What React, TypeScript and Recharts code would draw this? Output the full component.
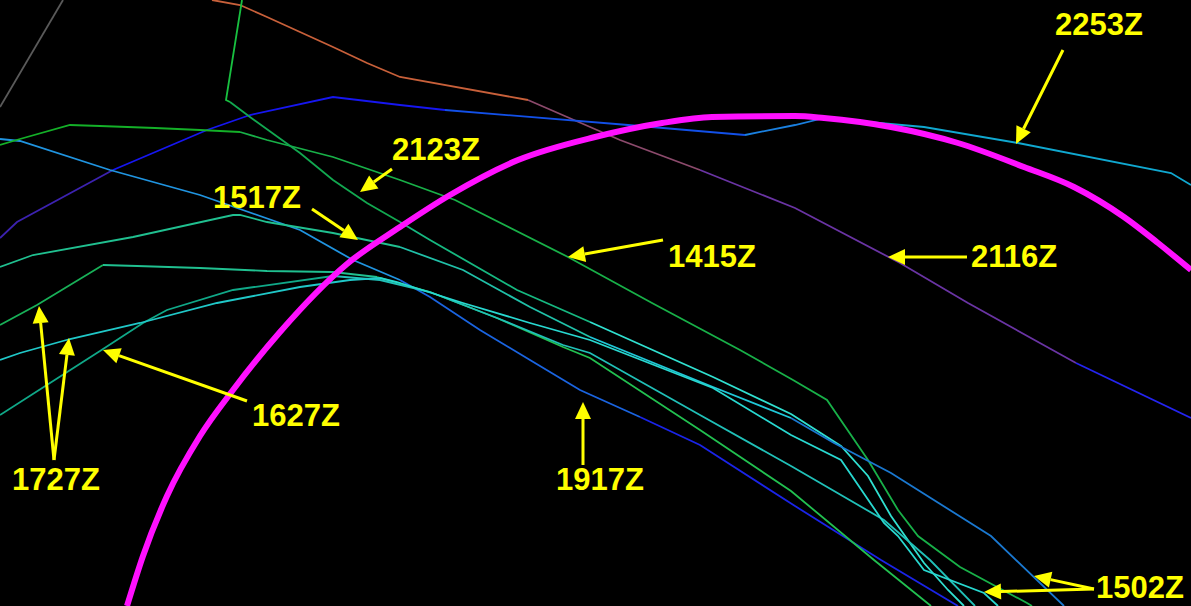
import React from 'react';
import { ComposedChart, Line, XAxis, YAxis, ReferenceLine, ReferenceDot } from 'recharts';

const W = 1191;
const H = 606;

// track points (x right, y down)
const grayTrack = [[0, 107], [63, 0]];
const track2116 = [[212, 0], [240, 5], [267, 17], [300, 32], [333, 47], [367, 63], [400, 77], [528, 100], [620, 140], [700, 170], [795, 208], [900, 263], [968, 303], [1076, 363], [1191, 418]];
const track2253 = [[0, 238], [17, 222], [113, 170], [207, 130], [250, 115], [333, 97], [400, 105], [445, 110], [628, 125], [745, 135], [795, 125], [824, 118], [924, 127], [1018, 143], [1171, 173], [1191, 185]];
const track1415 = [[0, 145], [20, 139], [70, 125], [100, 126], [155, 128], [200, 130], [240, 132], [267, 140], [333, 157], [400, 180], [455, 200], [568, 257], [652, 303], [740, 350], [793, 380], [827, 400], [868, 460], [898, 510], [918, 536], [960, 567], [1027, 603], [1032, 606]];
const track2123 = [[242, 0], [226, 100], [230, 102], [250, 117], [300, 153], [333, 180], [367, 203], [400, 222], [430, 240], [517, 290], [590, 322], [713, 377], [791, 414], [841, 446], [868, 476], [891, 516], [924, 563], [948, 590], [964, 606]];
const track1517 = [[0, 267], [33, 255], [133, 237], [233, 215], [240, 215], [267, 222], [333, 233], [400, 247], [463, 270], [530, 307], [590, 337], [713, 387], [791, 418], [834, 443], [891, 473], [991, 536], [1064, 606]];
const track1727a = [[0, 325], [37, 305], [103, 265], [137, 266], [200, 268], [267, 271], [333, 272], [377, 277], [430, 292], [497, 318], [563, 347], [590, 358], [700, 430], [791, 491], [874, 560], [931, 606]];
const track1727b = [[0, 360], [20, 353], [70, 339], [140, 323], [217, 303], [300, 287], [350, 280], [380, 278], [397, 282], [463, 303], [530, 323], [590, 340], [713, 388], [791, 435], [841, 460], [884, 523], [898, 536], [924, 570], [984, 593], [998, 606]];
const track1627 = [[0, 415], [50, 383], [100, 351], [143, 323], [167, 310], [233, 290], [333, 276], [380, 280], [430, 292], [497, 318], [563, 345], [590, 353], [700, 415], [791, 466], [884, 520], [930, 560], [975, 606]];
const track1917 = [[0, 139], [20, 141], [110, 170], [200, 195], [300, 230], [353, 260], [400, 280], [430, 297], [480, 330], [530, 360], [580, 390], [640, 417], [700, 445], [795, 506], [881, 560], [958, 606]];
const ring = [[127, 606], [143, 556], [167, 496], [200, 436], [233, 390], [280, 332], [347, 264], [400, 227], [450, 195], [518, 160], [595, 137], [662, 123], [712, 117], [795, 116], [824, 118], [891, 127], [958, 143], [1024, 167], [1074, 187], [1124, 217], [1158, 243], [1191, 270]];

// label text, centre x, baseline y
const labelTexts = ['2253Z', '2123Z', '1517Z', '1415Z', '2116Z', '1627Z', '1727Z', '1917Z', '1502Z'];
const labelX = [1099, 436, 257, 712, 1014, 296, 56, 600, 1140];
const labelY = [35, 160, 208, 267, 267, 426, 490, 490, 598];

// arrows: tail x, tail y, tip x, tip y
const arrows = [
  [1063, 50, 1016, 144],
  [392, 169, 360, 192],
  [312, 209, 358, 240],
  [663, 240, 568, 257],
  [967, 257, 888, 257],
  [247, 401, 103, 350],
  [54, 460, 39, 306],
  [54, 460, 69, 338],
  [583, 465, 583, 402],
  [1094, 589, 1034, 576],
  [1094, 589, 984, 592],
];

// colour pieces per track: [from index, to index, colour]
const tracks: { pts: number[][]; pieces: [number, number, string][] }[] = [
  { pts: grayTrack, pieces: [[0, 1, '#5a5a5a']] },
  { pts: track2116, pieces: [[0, 7, '#c8603a'], [7, 9, '#8c4a6c'], [9, 13, '#6a34a4'], [13, 14, '#2424f0']] },
  { pts: track2253, pieces: [[0, 2, '#3c22b0'], [2, 7, '#1616f0'], [7, 9, '#1250e8'], [9, 11, '#1a80e0'], [11, 15, '#10a8d0']] },
  { pts: track1917, pieces: [[0, 6, '#2094e0'], [6, 11, '#1a64e0'], [11, 15, '#1a24e8']] },
  { pts: track1415, pieces: [[0, 6, '#14b028'], [6, 21, '#18b048']] },
  { pts: track2123, pieces: [[0, 2, '#18c040'], [2, 7, '#12a850'], [7, 10, '#16b880'], [10, 18, '#30e0d0']] },
  { pts: track1517, pieces: [[0, 7, '#20c090'], [7, 10, '#20c0a8'], [10, 12, '#20c8d8'], [12, 16, '#1a78d0']] },
  { pts: track1727a, pieces: [[0, 2, '#18b058'], [2, 7, '#20c090'], [7, 15, '#22c050']] },
  { pts: track1627, pieces: [[0, 6, '#10a888'], [6, 16, '#20c0b8']] },
  { pts: track1727b, pieces: [[0, 7, '#20c8c8'], [7, 19, '#28d8d0']] },
];

const toXY = (a: number[][]) => a.map(([x, y]) => ({ x, y }));

const YELLOW = '#ffff00';

const Arrow = (p: any) => {
  const { x1, y1, x2, y2 } = p;
  const a = Math.atan2(y2 - y1, x2 - x1);
  const len = 17;
  const half = 8;
  const bx = x2 - len * Math.cos(a);
  const by = y2 - len * Math.sin(a);
  const nx = -Math.sin(a) * half;
  const ny = Math.cos(a) * half;
  return (
    <g>
      <line x1={x1} y1={y1} x2={bx} y2={by} stroke={YELLOW} strokeWidth={3} />
      <polygon points={`${x2},${y2} ${bx + nx},${by + ny} ${bx - nx},${by - ny}`} fill={YELLOW} />
    </g>
  );
};

export default function App() {
  return (
    <div style={{ position: 'fixed', left: 0, top: 0, width: W, height: H, background: '#000' }}>
      <ComposedChart width={W} height={H} margin={{ top: 0, right: 0, bottom: 0, left: 0 }}>
        <XAxis type="number" dataKey="x" domain={[0, W]} hide allowDataOverflow />
        <YAxis type="number" dataKey="y" domain={[0, H]} reversed hide allowDataOverflow />
        {tracks.flatMap((t, ti) =>
          t.pieces.map(([from, to, color], pi) => (
            <Line
              key={`t${ti}-${pi}`}
              data={toXY(t.pts.slice(from, to + 1))}
              dataKey="y"
              type="linear"
              stroke={color}
              strokeWidth={1.8}
              dot={false}
              activeDot={false}
              isAnimationActive={false}
            />
          ))
        )}
        <Line
          data={toXY(ring)}
          dataKey="y"
          type="monotone"
          stroke="#ff10ff"
          strokeWidth={6}
          dot={false}
          activeDot={false}
          isAnimationActive={false}
        />
        {arrows.map(([x1, y1, x2, y2], i) => (
          <ReferenceLine
            key={`a${i}`}
            segment={[{ x: x1, y: y1 }, { x: x2, y: y2 }]}
            shape={Arrow}
          />
        ))}
        {labelTexts.map((txt, i) => (
          <ReferenceDot
            key={`l${i}`}
            x={labelX[i]}
            y={labelY[i]}
            r={0}
            shape={(p: any) => (
              <text
                x={p.cx}
                y={p.cy}
                textAnchor="middle"
                fill={YELLOW}
                fontFamily="'Liberation Sans', Arial, sans-serif"
                fontWeight="bold"
                fontSize={31}
              >
                {txt}
              </text>
            )}
          />
        ))}
      </ComposedChart>
    </div>
  );
}
